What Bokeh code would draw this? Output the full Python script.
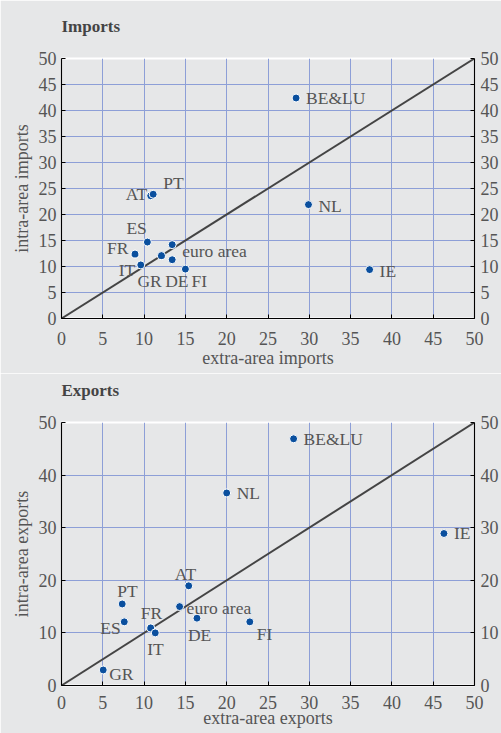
from bokeh.plotting import figure
from bokeh.layouts import column
from bokeh.models import LinearAxis, FixedTicker, Range1d, ColumnDataSource, Title
from bokeh.embed import file_html
from bokeh.resources import INLINE

# ---------------- data ----------------
imp_countries = ["BE&LU", "NL", "IE", "AT", "PT", "ES", "FR", "IT", "GR", "euro area", "DE", "FI"]
imp_extra = [28.4, 29.9, 37.3, 10.8, 11.1, 10.4, 8.9, 9.6, 12.1, 13.4, 13.4, 15.0]
imp_intra = [42.4, 21.9, 9.4, 23.6, 23.9, 14.7, 12.4, 10.3, 12.1, 14.2, 11.3, 9.5]

exp_countries = ["BE&LU", "NL", "IE", "AT", "PT", "ES", "FR", "IT", "euro area", "DE", "GR", "FI"]
exp_extra = [28.1, 20.0, 46.3, 15.4, 7.35, 7.6, 10.8, 11.35, 14.3, 16.4, 5.05, 22.8]
exp_intra = [46.9, 36.6, 28.9, 18.95, 15.5, 12.1, 10.95, 10.0, 15.0, 12.8, 2.95, 12.1]

diag = [0, 50]
x_ticks = [0, 5, 10, 15, 20, 25, 30, 35, 40, 45, 50]
imp_y_ticks = [0, 5, 10, 15, 20, 25, 30, 35, 40, 45, 50]
exp_y_ticks = [0, 10, 20, 30, 40, 50]

# ---------------- label placement (screen px offsets, left-aligned) ----------------
imp_label_offsets = {
    "BE&LU": (10, 0), "NL": (10, 1), "IE": (10, 1), "AT": (-25, -2), "PT": (10, -11),
    "ES": (-21, -14), "FR": (-28, -6), "IT": (-22, 5), "GR": (-24, 25),
    "euro area": (10, 6), "DE": (-7, 21), "FI": (6, 12),
}
exp_label_offsets = {
    "BE&LU": (10, 0), "NL": (10, 0), "IE": (10, 0), "AT": (-14, -12), "PT": (-5, -13),
    "ES": (-24, 6), "FR": (-10, -15), "IT": (-8, 16), "euro area": (7, 1),
    "DE": (-9, 17), "GR": (6, 4), "FI": (7, 12),
}

BG = "#e6e7e8"
GRID = "#8d9fd7"
DOT = "#0a4f9e"
TXT = "#555555"
FONT = "Liberation Serif"


def make_fig(title, xlabel, ylabel, xs, ys, names, yticks, offsets,
             height, border_top, border_bottom, spacer,
             xlab_standoff, xtitle_standoff):
    p = figure(width=501, height=height, output_backend="svg", toolbar_location=None,
               title=None,
               x_range=Range1d(0, 50), y_range=Range1d(0, 50),
               min_border_left=61, min_border_right=27,
               min_border_top=border_top, min_border_bottom=border_bottom,
               background_fill_color=BG, border_fill_color=BG,
               outline_line_color="white", outline_line_width=2)

    # spacer (background-coloured, nearest the frame), then the title above it
    p.add_layout(Title(text=".", text_color=BG, text_font_size="8px", standoff=spacer), "above")
    p.add_layout(Title(text=title, text_font=FONT, text_font_style="bold",
                       text_font_size="17px", text_color="#444444",
                       align="left", standoff=0), "above")

    p.add_layout(LinearAxis(), "right")

    p.xaxis.ticker = FixedTicker(ticks=x_ticks)
    p.yaxis.ticker = FixedTicker(ticks=yticks)
    p.xgrid.ticker = FixedTicker(ticks=x_ticks)
    p.ygrid.ticker = FixedTicker(ticks=yticks)
    p.grid.grid_line_color = GRID
    p.grid.grid_line_width = 1

    p.xaxis.axis_label = xlabel
    p.yaxis[0].axis_label = ylabel
    for ax in list(p.xaxis) + list(p.yaxis):
        ax.axis_line_color = "black"
        ax.axis_line_width = 1.2
        ax.major_tick_in = 4
        ax.major_tick_out = 0
        ax.major_tick_line_color = "black"
        ax.minor_tick_line_color = None
        ax.major_label_text_font = FONT
        ax.major_label_text_font_size = "18px"
        ax.major_label_text_color = TXT
        ax.axis_label_text_font = FONT
        ax.axis_label_text_font_style = "normal"
        ax.axis_label_text_font_size = "18px"
        ax.axis_label_text_color = TXT
    p.xaxis.major_label_standoff = xlab_standoff
    p.xaxis.axis_label_standoff = xtitle_standoff
    p.yaxis[0].major_label_standoff = 5
    p.yaxis[0].axis_label_standoff = 4
    p.yaxis[1].major_label_standoff = 6
    p.yaxis[1].axis_label_standoff = 0

    p.line(diag, diag, line_color="#444444", line_width=2)

    src = ColumnDataSource(dict(
        x=xs, y=ys, name=names,
        dx=[offsets[n][0] for n in names],
        dy=[offsets[n][1] for n in names],
    ))
    p.scatter("x", "y", source=src, size=8, fill_color=DOT, line_color="white", line_width=1)
    p.text("x", "y", text="name", source=src, x_offset="dx", y_offset="dy",
           text_font=FONT, text_font_size="17.5px", text_color=TXT,
           text_align="left", text_baseline="middle")
    return p


p1 = make_fig("Imports", "extra-area imports", "intra-area imports",
              imp_extra, imp_intra, imp_countries, imp_y_ticks, imp_label_offsets,
              height=373, border_top=58, border_bottom=55, spacer=16,
              xlab_standoff=13, xtitle_standoff=0)
p2 = make_fig("Exports", "extra-area exports", "intra-area exports",
              exp_extra, exp_intra, exp_countries, exp_y_ticks, exp_label_offsets,
              height=360, border_top=49, border_bottom=48, spacer=16,
              xlab_standoff=10, xtitle_standoff=-4)

layout = column(p1, p2, spacing=0)
open("out.html", "w").write(file_html(layout, INLINE))
